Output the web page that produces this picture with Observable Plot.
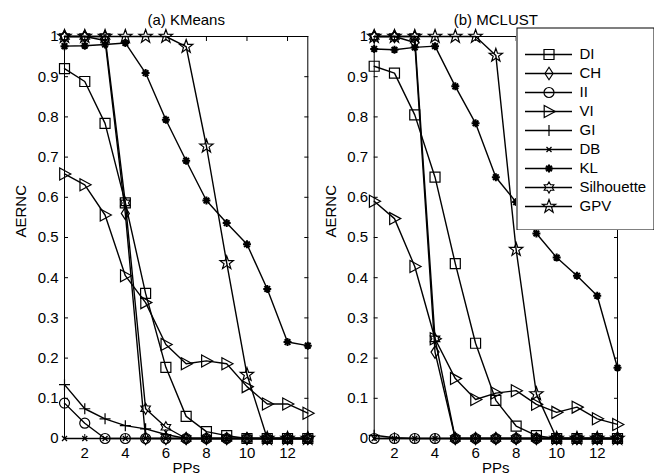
<!DOCTYPE html>
<html><head><meta charset="utf-8">
<script src="https://cdn.jsdelivr.net/npm/d3@7"></script>
<script src="https://cdn.jsdelivr.net/npm/@observablehq/plot@0.6"></script>
<style>
body{margin:0;background:#fff;}
#wrap{position:relative;width:664px;height:476px;font-family:"Liberation Sans",Arial,sans-serif;}
#wrap > svg{position:absolute;top:0;}
</style></head><body><div id="wrap"></div>
<script>
// ---- data ----
const pps = [1,2,3,4,5,6,7,8,9,10,11,12,13];
const seriesNames = ["DI","CH","II","VI","GI","DB","KL","Silhouette","GPV"];
const xTicks = [2,4,6,8,10,12];
const xTickLabels = ["2","4","6","8","10","12"];
const yTicks = [0,0.1,0.2,0.3,0.4,0.5,0.6,0.7,0.8,0.9,1];
const yTickLabels = ["0","0.1","0.2","0.3","0.4","0.5","0.6","0.7","0.8","0.9","1"];
const panelTitles = ["(a) KMeans","(b) MCLUST"];
const xLabel = "PPs";
const yLabel = "AERNC";

// (a) KMeans
const kmDI  = [0.92,0.888,0.784,0.586,0.361,0.177,0.055,0.017,0.007,0,0,0,0];
const kmCH  = [1,1,0.99,0.56,0,0,0,0,0,0,0,0,0];
const kmII  = [0.088,0.038,0,0,0,0,0,0,0,0,0,0,0];
const kmVI  = [0.658,0.631,0.556,0.405,0.338,0.234,0.186,0.193,0.186,0.129,0.086,0.086,0.063];
const kmGI  = [0.134,0.074,0.049,0.032,0.024,0.01,0,0,0,0,0,0,0];
const kmDB  = [0,0,0,0,0,0,0,0,0,0,0,0,0];
const kmKL  = [0.976,0.977,0.98,0.984,0.909,0.793,0.691,0.592,0.536,0.483,0.372,0.24,0.231];
const kmSil = [1,1,1,0.586,0.074,0.028,0,0,0,0,0,0,0];
const kmGPV = [1,1,1,1,1,1,0.975,0.727,0.437,0.159,0,0,0];

// (b) MCLUST
const mcDI  = [0.926,0.909,0.805,0.65,0.435,0.237,0.095,0.031,0.007,0,0,0,0];
const mcCH  = [1,1,0.985,0.215,0,0,0,0,0,0,0,0,0];
const mcII  = [0,0,0,0,0,0,0,0,0,0,0,0,0];
const mcVI  = [0.59,0.547,0.428,0.248,0.149,0.097,0.113,0.119,0.085,0.065,0.078,0.049,0.035];
const mcGI  = [0.008,0.002,0,0,0,0,0,0,0,0,0,0,0];
const mcDB  = [0,0,0,0,0,0,0,0,0,0,0,0,0];
const mcKL  = [0.969,0.967,0.973,0.976,0.876,0.784,0.65,0.588,0.51,0.45,0.405,0.355,0.176];
const mcSil = [1,1,1,0.248,0,0,0,0,0,0,0,0,0];
const mcGPV = [1,1,1,1,1,1,0.953,0.47,0.111,0,0,0,0];

const kmSeries = [kmDI,kmCH,kmII,kmVI,kmGI,kmDB,kmKL,kmSil,kmGPV];
const mcSeries = [mcDI,mcCH,mcII,mcVI,mcGI,mcDB,mcKL,mcSil,mcGPV];

// ---- marker symbols (MATLAB-like) ----
const R = s => Math.sqrt(s / Math.PI);
function star(c, n, ro, ri) {
  for (let k = 0; k < 2 * n; k++) {
    const a = -Math.PI / 2 + k * Math.PI / n;
    const rr = k % 2 ? ri : ro;
    const px = rr * Math.cos(a), py = rr * Math.sin(a);
    k ? c.lineTo(px, py) : c.moveTo(px, py);
  }
  c.closePath();
}
const symbols = {
  DI: {draw(c, s){const r=R(s); c.rect(-r,-r,2*r,2*r);}},
  CH: {draw(c, s){const r=R(s); c.moveTo(0,-r*1.25); c.lineTo(r*0.8,0); c.lineTo(0,r*1.25); c.lineTo(-r*0.8,0); c.closePath();}},
  II: {draw(c, s){const r=R(s); c.moveTo(r,0); c.arc(0,0,r,0,2*Math.PI);}},
  VI: {draw(c, s){const r=R(s); c.moveTo(r*1.05,0); c.lineTo(-r*0.8,-r); c.lineTo(-r*0.8,r); c.closePath();}},
  GI: {draw(c, s){const r=R(s); c.moveTo(-r,0); c.lineTo(r,0); c.moveTo(0,-r); c.lineTo(0,r);}},
  DB: {draw(c, s){const r=R(s); c.moveTo(-r,-r); c.lineTo(r,r); c.moveTo(-r,r); c.lineTo(r,-r);}},
  KL: {draw(c, s){const r=R(s); const d=r*0.707; c.moveTo(-r,0); c.lineTo(r,0); c.moveTo(0,-r); c.lineTo(0,r); c.moveTo(-d,-d); c.lineTo(d,d); c.moveTo(-d,d); c.lineTo(d,-d);}},
  Silhouette: {draw(c, s){const r=R(s); star(c, 6, r, r/Math.sqrt(3));}},
  GPV: {draw(c, s){const r=R(s); star(c, 5, r, r*0.4);}}
};
const markerR = {DI:5, CH:5, II:5, VI:6, GI:5.5, DB:2.5, KL:4, Silhouette:5.5, GPV:7};
const markerW = {DI:1.2, CH:1.2, II:1.2, VI:1.2, GI:1.2, DB:1.3, KL:2, Silhouette:1.2, GPV:1.2};

const FONT = '"Liberation Sans", Arial, Helvetica, sans-serif';

function panel(title, seriesArr, width, marginLeft, marginRight) {
  const marks = [
    Plot.axisX({anchor:"bottom", ticks:xTicks, tickSize:-4, tickPadding:12.7, tickFormat:d=>xTickLabels[xTicks.indexOf(d)], label:null, fontSize:15}),
    Plot.axisX({anchor:"top", ticks:xTicks, tickSize:-4, tickFormat:()=>"", label:null}),
    Plot.axisY({anchor:"left", ticks:yTicks, tickSize:-4, tickPadding:10, tickFormat:d=>yTickLabels[yTicks.indexOf(d)], label:null, fontSize:15}),
    Plot.axisY({anchor:"right", ticks:yTicks, tickSize:-4, tickFormat:()=>"", label:null}),
    Plot.frame({stroke:"black", strokeWidth:1})
  ];
  seriesNames.forEach((name, i) => {
    const rows = pps.map((p, j) => ({pp:p, v:seriesArr[i][j]}));
    marks.push(Plot.line(rows, {x:"pp", y:"v", stroke:"black", strokeWidth:1.4}));
    marks.push(Plot.dot(rows, {x:"pp", y:"v", symbol:symbols[name], r:markerR[name], fill:"none", stroke:"black", strokeWidth:markerW[name]}));
  });
  marks.push(Plot.text([title], {frameAnchor:"top", dy:-16, lineAnchor:"middle", fontSize:15}));
  marks.push(Plot.text([xLabel], {frameAnchor:"bottom", dy:30, lineAnchor:"middle", fontSize:15}));
  marks.push(Plot.text([yLabel], {frameAnchor:"left", dx:-43, rotate:-90, lineAnchor:"middle", fontSize:15}));
  return Plot.plot({
    width, height:476, marginTop:36, marginBottom:38, marginLeft, marginRight,
    x:{domain:[1,13], axis:null}, y:{domain:[0,1], axis:null},
    style:{fontFamily:FONT, fontSize:"15px", color:"black", background:"transparent", overflow:"visible"},
    marks
  });
}

const wrap = document.getElementById("wrap");
const left = panel(panelTitles[0], kmSeries, 332, 64, 24.7);
left.style.left = "0px";
wrap.appendChild(left);
const right = panel(panelTitles[1], mcSeries, 332, 41.7, 47);
right.style.left = "332px";
wrap.appendChild(right);

// legend
const legendMarks = [Plot.frame({stroke:"black", strokeWidth:1, inset:0.5})];
seriesNames.forEach(name => {
  legendMarks.push(Plot.ruleY([name], {y:d=>d, x1:0, x2:1, stroke:"black", strokeWidth:1.4}));
  legendMarks.push(Plot.dot([name], {x:0.5, y:d=>d, symbol:symbols[name], r:markerR[name], fill:"none", stroke:"black", strokeWidth:markerW[name]}));
});
legendMarks.push(Plot.text(seriesNames, {x:1, y:d=>d, dx:7, textAnchor:"start", lineAnchor:"middle", fontSize:15}));
const legend = Plot.plot({
  width:138, height:203, margin:0,
  x:{domain:[0,1], range:[9,56], axis:null},
  y:{type:"point", domain:seriesNames, range:[15.7,189.7], axis:null},
  style:{fontFamily:FONT, fontSize:"15px", color:"black", background:"white"},
  marks:legendMarks
});
legend.style.left = "516px";
legend.style.top = "27px";
wrap.appendChild(legend);
</script></body></html>
